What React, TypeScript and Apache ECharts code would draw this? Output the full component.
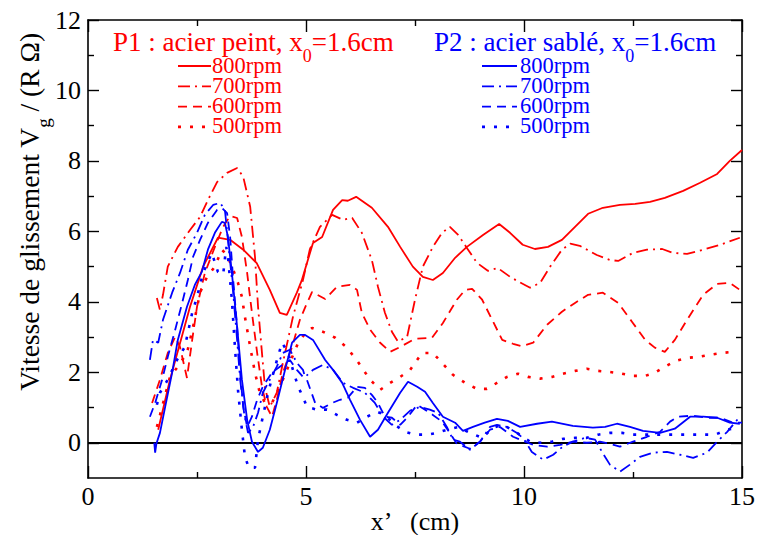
import React, { useEffect, useRef } from "react";
import * as echarts from "echarts";

// ---------- data (x in cm, y = Vg/(R·Omega)) ----------
const p1_800: number[][] = [[1.61,0.37],[1.88,1.79],[2.34,3.86],[2.64,5.0],[2.98,5.82],[3.26,5.76],[3.56,5.48],[3.87,5.1],[4.17,4.34],[4.4,3.69],[4.56,3.63],[4.79,4.26],[4.9,4.6],[5.16,5.67],[5.37,5.84],[5.62,6.61],[5.83,6.89],[5.96,6.87],[6.15,6.98],[6.51,6.67],[6.88,6.13],[7.16,5.56],[7.45,5.0],[7.68,4.71],[7.91,4.62],[8.14,4.82],[8.42,5.25],[8.69,5.56],[9.06,5.9],[9.43,6.21],[9.68,5.96],[9.97,5.62],[10.25,5.5],[10.55,5.56],[10.87,5.76],[11.17,6.13],[11.47,6.5],[11.81,6.67],[12.2,6.75],[12.55,6.78],[12.89,6.84],[13.23,6.95],[13.65,7.15],[14.04,7.38],[14.43,7.63],[14.72,8.0],[15.0,8.31]];
const p1_700: number[][] = [[1.58,4.11],[1.65,3.77],[1.72,4.2],[1.83,5.0],[2.06,5.56],[2.34,6.04],[2.57,6.41],[2.75,6.89],[2.96,7.4],[3.19,7.66],[3.42,7.8],[3.56,7.55],[3.72,6.7],[3.83,5.28],[3.9,3.86],[3.99,2.55],[4.06,1.56],[4.17,1.02],[4.33,1.42],[4.47,2.27],[4.7,3.57],[4.93,4.62],[5.09,5.5],[5.32,6.13],[5.6,6.47],[5.85,6.33],[6.06,6.38],[6.28,5.96],[6.51,5.19],[6.65,4.43],[6.81,3.69],[6.97,3.15],[7.11,2.87],[7.32,3.01],[7.5,4.06],[7.68,5.0],[7.91,5.56],[8.12,5.96],[8.3,6.13],[8.49,5.9],[8.69,5.53],[8.92,5.11],[9.17,4.88],[9.4,4.96],[9.68,4.71],[9.91,4.55],[10.14,4.4],[10.37,4.54],[10.6,5.0],[10.87,5.48],[11.06,5.65],[11.28,5.59],[11.67,5.33],[11.97,5.19],[12.16,5.16],[12.5,5.39],[12.82,5.48],[13.17,5.5],[13.42,5.39],[13.74,5.36],[14.11,5.48],[14.5,5.62],[14.95,5.82]];
const p1_600: number[][] = [[1.47,1.13],[1.65,1.79],[1.83,2.55],[2.0,3.01],[2.11,2.72],[2.27,1.84],[2.39,2.92],[2.5,3.86],[2.68,4.82],[2.91,5.56],[3.1,6.13],[3.26,6.44],[3.42,6.38],[3.53,5.84],[3.65,4.82],[3.76,3.69],[3.88,2.55],[3.99,1.59],[4.1,1.02],[4.22,0.74],[4.33,1.22],[4.47,1.99],[4.68,2.72],[4.86,3.49],[5.0,3.9],[5.14,4.28],[5.44,4.08],[5.71,4.43],[6.01,4.48],[6.17,4.34],[6.28,3.69],[6.47,3.21],[6.7,2.84],[6.93,2.58],[7.16,2.72],[7.5,2.95],[7.89,2.98],[8.14,3.4],[8.46,4.06],[8.65,4.34],[8.81,4.37],[9.04,4.06],[9.27,3.49],[9.5,2.92],[9.75,2.81],[9.95,2.74],[10.21,2.84],[10.53,3.35],[10.87,3.72],[11.17,3.97],[11.47,4.2],[11.81,4.26],[12.16,3.97],[12.48,3.43],[12.78,2.92],[13.0,2.7],[13.23,2.58],[13.46,2.92],[13.74,3.49],[14.11,4.2],[14.43,4.51],[14.72,4.54],[14.95,4.34]];
const p1_500: number[][] = [[1.58,0.45],[1.7,1.02],[1.88,1.87],[2.06,2.16],[2.27,2.55],[2.41,3.29],[2.57,4.26],[2.73,4.71],[2.91,5.0],[3.07,5.48],[3.19,5.33],[3.33,4.91],[3.44,4.54],[3.53,4.14],[3.6,3.57],[3.72,2.72],[3.83,1.99],[3.94,1.42],[4.06,1.13],[4.22,1.13],[4.4,1.59],[4.63,2.27],[4.82,2.84],[4.98,3.1],[5.14,3.26],[5.39,3.15],[5.67,2.98],[5.94,2.7],[6.19,2.3],[6.47,1.79],[6.7,1.5],[6.93,1.7],[7.16,1.87],[7.39,2.07],[7.66,2.55],[7.91,2.55],[8.14,2.24],[8.37,1.93],[8.65,1.7],[8.92,1.53],[9.15,1.53],[9.38,1.7],[9.61,1.87],[9.86,1.96],[10.09,1.87],[10.37,1.82],[10.64,1.87],[10.89,1.96],[11.17,2.04],[11.44,2.1],[11.7,2.04],[11.97,2.01],[12.25,1.96],[12.5,1.9],[12.78,1.9],[13.0,1.99],[13.23,2.16],[13.49,2.33],[13.74,2.41],[14.01,2.44],[14.29,2.5],[14.54,2.55],[14.79,2.58]];
const p2_800: number[][] = [[1.52,0.0],[1.54,-0.28],[1.57,-0.02],[1.65,0.28],[1.77,1.02],[1.93,1.99],[2.06,2.92],[2.27,3.86],[2.45,4.48],[2.61,4.85],[2.75,5.48],[2.91,5.96],[3.07,6.27],[3.14,6.24],[3.21,5.84],[3.3,4.82],[3.42,3.29],[3.53,1.79],[3.65,0.65],[3.76,0.03],[3.9,-0.26],[4.01,-0.14],[4.17,0.37],[4.33,1.13],[4.52,2.07],[4.68,2.84],[4.86,3.06],[4.98,3.06],[5.16,2.92],[5.44,2.35],[5.62,2.07],[5.83,1.7],[6.01,1.22],[6.24,0.65],[6.47,0.17],[6.65,0.37],[6.88,0.85],[7.16,1.42],[7.34,1.73],[7.55,1.59],[7.73,1.45],[7.91,1.13],[8.14,0.74],[8.42,0.57],[8.6,0.34],[8.83,0.45],[9.1,0.57],[9.38,0.68],[9.63,0.62],[9.91,0.45],[10.3,0.54],[10.64,0.6],[11.12,0.48],[11.58,0.43],[11.86,0.45],[12.13,0.54],[12.43,0.45],[12.73,0.34],[13.12,0.28],[13.46,0.4],[13.81,0.74],[14.11,0.74],[14.43,0.71],[14.72,0.57],[14.95,0.54]];
const p2_700: number[][] = [[1.42,2.35],[1.49,2.92],[1.61,2.84],[1.72,3.49],[1.93,4.26],[2.11,4.82],[2.29,5.48],[2.5,5.96],[2.68,6.47],[2.87,6.75],[3.03,6.81],[3.14,6.61],[3.21,5.76],[3.33,4.26],[3.42,2.92],[3.49,1.79],[3.58,0.85],[3.67,0.28],[3.78,0.43],[3.9,0.85],[4.01,1.42],[4.17,1.79],[4.33,2.16],[4.47,2.55],[4.63,2.64],[4.79,2.27],[4.93,2.07],[4.98,1.87],[5.16,2.07],[5.39,2.21],[5.62,2.07],[5.85,1.7],[6.08,1.56],[6.35,1.42],[6.58,1.13],[6.77,0.74],[6.97,0.51],[7.16,0.65],[7.39,0.91],[7.61,1.02],[7.84,0.94],[8.03,0.85],[8.23,0.45],[8.37,0.09],[8.53,0.03],[8.76,-0.2],[8.99,0.03],[9.22,0.45],[9.38,0.51],[9.61,0.45],[9.84,0.28],[10.0,0.1],[10.18,-0.26],[10.44,-0.48],[10.67,-0.34],[10.89,-0.11],[11.12,0.03],[11.4,0.14],[11.63,0.09],[11.79,-0.26],[11.97,-0.62],[12.2,-0.82],[12.43,-0.62],[12.66,-0.4],[12.96,-0.28],[13.28,-0.26],[13.58,-0.34],[13.88,-0.43],[14.2,-0.28],[14.43,0.03],[14.66,0.31],[14.95,0.74]];
const p2_600: number[][] = [[1.42,0.74],[1.54,1.13],[1.7,1.79],[1.83,2.44],[2.0,3.21],[2.16,3.97],[2.29,4.62],[2.41,5.28],[2.57,5.76],[2.75,6.24],[2.96,6.61],[3.07,6.67],[3.19,6.52],[3.26,5.84],[3.33,4.62],[3.42,3.29],[3.49,1.99],[3.56,1.02],[3.65,0.45],[3.76,0.74],[3.88,1.22],[4.01,1.59],[4.22,1.99],[4.4,2.16],[4.63,2.35],[4.79,2.07],[4.93,1.87],[5.02,1.79],[5.21,1.13],[5.39,0.99],[5.6,1.13],[5.78,1.22],[5.96,1.28],[6.17,1.59],[6.35,1.56],[6.51,1.36],[6.65,1.13],[6.81,0.74],[6.97,0.71],[7.16,0.51],[7.34,0.74],[7.55,1.08],[7.73,0.94],[7.91,0.79],[8.12,0.6],[8.3,0.28],[8.46,-0.03],[8.76,-0.17],[8.99,0.03],[9.22,0.37],[9.45,0.45],[9.75,0.17],[9.95,0.07],[10.21,-0.06],[10.53,-0.11],[10.83,-0.06],[11.12,0.03],[11.44,0.0],[11.74,0.03],[11.97,-0.03],[12.2,-0.11],[12.5,0.03],[12.82,0.17],[13.12,0.31],[13.35,0.6],[13.53,0.74],[13.88,0.77],[14.2,0.71],[14.5,0.71],[14.79,0.57],[15.0,0.57]];
const p2_500: number[][] = [[1.58,1.08],[1.65,1.42],[1.83,1.79],[2.04,2.35],[2.22,2.72],[2.29,3.12],[2.39,3.69],[2.5,4.14],[2.64,4.82],[2.84,5.39],[2.98,4.85],[3.1,4.77],[3.17,5.56],[3.21,5.28],[3.3,4.06],[3.37,2.72],[3.44,1.5],[3.53,0.37],[3.6,-0.4],[3.69,-0.71],[3.83,-0.71],[3.9,0.09],[4.01,0.74],[4.13,1.42],[4.29,2.16],[4.45,2.84],[4.59,2.55],[4.7,2.07],[4.82,1.59],[4.93,1.3],[5.02,1.02],[5.25,0.94],[5.48,0.94],[5.71,0.79],[5.94,0.65],[6.17,0.57],[6.4,0.74],[6.63,0.88],[6.81,0.79],[7.04,0.51],[7.27,0.31],[7.5,0.23],[7.78,0.23],[8.0,0.28],[8.23,0.37],[8.49,0.45],[8.76,0.28],[9.04,0.14],[9.29,0.43],[9.52,0.51],[9.84,0.28],[10.14,0.03],[10.37,0.0],[10.64,0.03],[10.89,0.11],[11.17,0.14],[11.44,0.14],[11.7,0.23],[11.97,0.28],[12.25,0.28],[12.5,0.23],[12.78,0.23],[13.05,0.23],[13.3,0.23],[13.58,0.23],[13.85,0.23],[14.11,0.23],[14.38,0.23],[14.66,0.37],[14.89,0.43]];

const rpmLabels = ["800rpm", "700rpm", "600rpm", "500rpm"];
const p1Title = "P1 : acier peint, x";
const p2Title = "P2 : acier sablé, x";
const titleSub = "0";
const titleTail = "=1.6cm";
const yName = ["Vitesse de glissement V", "g", " / (R Ω)"];
const xName = "x’   (cm)";
const xTicks = [0, 5, 10, 15];
const yMajorTicks = [0, 2, 4, 6, 8, 10, 12];
const yMinorTicks = [1, 3, 5, 7, 9, 11];

const RED = "#ff0000";
const BLUE = "#0000ff";
const FONT = "Liberation Serif";
const DASHES: any[] = ["solid", [12, 5, 2, 5], [9, 6], [3, 9]];

const subRich = (color: string, main: number, sub: number) => ({
  a: { fontFamily: FONT, fontSize: main, color, lineHeight: 28, verticalAlign: "top" },
  s: {
    fontFamily: FONT,
    fontSize: sub,
    color,
    lineHeight: 16,
    verticalAlign: "top",
    padding: [19, 0, 0, 0],
  },
});

export default function App() {
  const ref = useRef<HTMLDivElement>(null);
  useEffect(() => {
    if (!ref.current) return;
    const chart = echarts.init(ref.current, null, { renderer: "svg" });
    const p1 = [p1_800, p1_700, p1_600, p1_500];
    const p2 = [p2_800, p2_700, p2_600, p2_500];
    const mk = (data: number[][], color: string, i: number, name: string) => ({
      type: "line",
      name,
      data,
      showSymbol: false,
      symbol: "none",
      xAxisIndex: 0,
      yAxisIndex: 0,
      lineStyle: { color, width: i === 3 ? 2.6 : 1.8, type: DASHES[i] },
      silent: true,
      z: 3,
    });
    const series: any[] = [];
    p1.forEach((d, i) => series.push(mk(d, RED, i, "P1 " + rpmLabels[i])));
    p2.forEach((d, i) => series.push(mk(d, BLUE, i, "P2 " + rpmLabels[i])));
    series[0].markLine = {
      silent: true,
      symbol: "none",
      label: { show: false },
      lineStyle: { color: "#000", type: "solid", width: 2 },
      data: [{ yAxis: 0 }],
      z: 2,
    };

    const graphic: any[] = [];
    const addLegend = (x0: number, title: string, color: string, lineX1: number, lineX2: number, textX: number) => {
      graphic.push({
        type: "text",
        x: x0,
        y: 28,
        style: {
          text: `{a|${title}}{s|${titleSub}}{a|${titleTail}}`,
          rich: subRich(color, 27, 18),
          fill: color,
          verticalAlign: "top",
          align: "left",
        },
      });
      rpmLabels.forEach((lab, i) => {
        const y = 66 + i * 20.3;
        graphic.push({
          type: "line",
          shape: { x1: lineX1, y1: y, x2: lineX2, y2: y },
          style: { stroke: color, lineWidth: i === 3 ? 2.6 : 1.8, lineDash: i === 0 ? null : DASHES[i] },
        });
        graphic.push({
          type: "text",
          x: textX,
          y: y - 1,
          style: {
            text: lab,
            fill: color,
            fontFamily: FONT,
            fontSize: 22.5,
            lineHeight: 18,
            verticalAlign: "middle",
            align: "left",
          },
        });
      });
    };
    addLegend(113, p1Title, RED, 178, 211, 212);
    addLegend(434, p2Title, BLUE, 482, 517, 520);

    // rotated y-axis title with subscript
    graphic.push({
      type: "text",
      x: 15,
      y: 212,
      rotation: Math.PI / 2,
      style: {
        text: `{a|${yName[0]}}{s|${yName[1]}}{a|${yName[2]}}`,
        rich: subRich("#000", 27.5, 19),
        fill: "#000",
        align: "center",
        verticalAlign: "top",
      },
    });

    const baseY = (position: string, ticks: number[], len: number, line: boolean, labels: boolean) => ({
      type: "value",
      position,
      min: -1,
      max: 12,
      splitLine: { show: false },
      axisLine: { show: line, onZero: false, lineStyle: { color: "#000", width: 1.6 } },
      axisTick: { show: true, inside: true, length: len, customValues: ticks, lineStyle: { color: "#000", width: 1.4 } },
      axisLabel: {
        show: labels,
        customValues: ticks,
        color: "#000",
        fontFamily: FONT,
        fontSize: 26,
        margin: 7,
      },
    });
    const baseX = (position: string, show: boolean) => ({
      type: "value",
      position,
      min: 0,
      max: 15,
      interval: 5,
      splitLine: { show: false },
      axisLine: { show: true, onZero: false, lineStyle: { color: "#000", width: 1.6 } },
      axisTick: { show: true, inside: true, length: 12, lineStyle: { color: "#000", width: 1.4 } },
      minorTick: { show: true, splitNumber: 2, length: 6, lineStyle: { color: "#000", width: 1.4 } },
      axisLabel: {
        show,
        color: "#000",
        fontFamily: FONT,
        fontSize: 26,
        margin: 5,
        customValues: xTicks,
      },
    });
    const x0: any = baseX("bottom", true);
    x0.name = xName;
    x0.nameLocation = "middle";
    x0.nameGap = 30;
    x0.nameMoveOverlap = false;
    x0.nameTextStyle = { color: "#000", fontFamily: FONT, fontSize: 26, verticalAlign: "top" };

    chart.setOption({
      animation: false,
      backgroundColor: "#fff",
      grid: { left: 88, right: 15, top: 20, bottom: 57, containLabel: false, outerBoundsMode: "none" },
      xAxis: [x0, baseX("top", false)],
      yAxis: [
        baseY("left", yMajorTicks, 11, true, true),
        baseY("right", yMajorTicks, 11, true, false),
        baseY("left", yMinorTicks, 6, false, false),
        baseY("right", yMinorTicks, 6, false, false),
      ],
      series,
      graphic,
    });
    return () => chart.dispose();
  }, []);
  return <div ref={ref} style={{ position: "fixed", left: 0, top: 0, width: 757, height: 535 }} />;
}
